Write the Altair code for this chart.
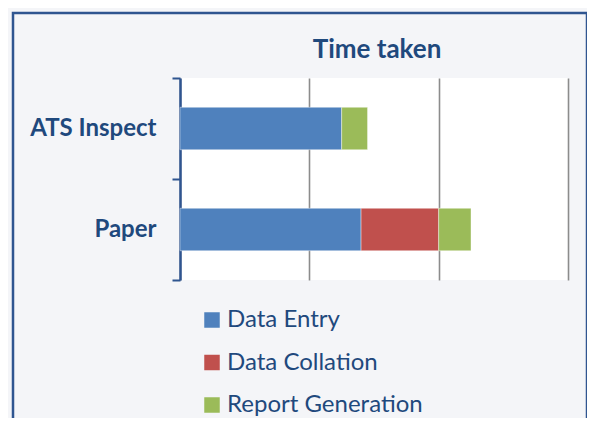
import altair as alt
import pandas as pd

# Data
methods = ["ATS Inspect", "ATS Inspect", "Paper", "Paper", "Paper"]
stages = ["Data Entry", "Report Generation", "Data Entry", "Data Collation", "Report Generation"]
hours = [1.25, 0.2, 1.4, 0.6, 0.25]
stage_order = ["Data Entry", "Data Collation", "Report Generation"]
stage_colors = ["#4F81BD", "#C0504D", "#9BBB59"]
method_order = ["ATS Inspect", "Paper"]
chart_title = "Time taken"

df = pd.DataFrame({"method": methods, "stage": stages, "hours": hours})
df["order"] = df["stage"].map({s: i for i, s in enumerate(stage_order)})

TEXT = "#1F497D"
W, H = 388, 202

bars = alt.Chart(df).mark_bar(height={"band": 0.42}, stroke="white", strokeOpacity=0.5,
                              strokeWidth=0.8).encode(
    x=alt.X("sum(hours):Q", stack="zero",
            scale=alt.Scale(domain=[0, 3], nice=False),
            axis=alt.Axis(values=[0, 1, 2, 3], labels=False, ticks=False, domain=False,
                          title=None, grid=True, gridColor="#8C8C8C", gridWidth=1.6)),
    y=alt.Y("method:N", sort=method_order,
            scale=alt.Scale(paddingInner=0, paddingOuter=0),
            axis=alt.Axis(title=None, tickBand="extent", tickSize=8, tickColor="#2F5590",
                          tickWidth=2, domainColor="#2F5590", domainWidth=2.5,
                          labelFont="Lato", labelFontWeight="bold", labelFontSize=24,
                          labelColor=TEXT, labelPadding=16, grid=False)),
    color=alt.Color("stage:N", sort=stage_order,
                    scale=alt.Scale(domain=stage_order, range=stage_colors),
                    legend=alt.Legend(title=None, orient="none", legendX=20, legendY=230,
                                      symbolType="square", symbolSize=240, symbolStrokeWidth=0,
                                      labelFont="Lato", labelFontSize=24, labelColor=TEXT,
                                      labelOffset=3, labelLimit=400, rowPadding=18.5,
                                      direction="vertical")),
    order=alt.Order("order:Q"),
)

border = alt.Chart(alt.Data(values=[{}])).mark_rect(
    fill="transparent", stroke="#2F5590", strokeWidth=2.5
).encode(
    x=alt.value(-167), x2=alt.value(407),
    y=alt.value(-65), y2=alt.value(400),
)

title = alt.Chart(alt.Data(values=[{"t": chart_title}])).mark_text(
    font="Lato", fontSize=26, fontWeight="bold", color=TEXT, align="center",
    baseline="alphabetic"
).encode(
    x=alt.value(197), y=alt.value(-20), text="t:N"
)

chart = alt.layer(border, bars, title).properties(
    width=W, height=H,
    autosize=alt.AutoSizeParams(type="none"),
    padding={"left": 172, "top": 70, "right": 19, "bottom": 138},
    background="#F4F5F8",
).configure_view(fill="white", stroke=None)

chart.save("out.html", embed_options={"renderer": "svg", "actions": False})
